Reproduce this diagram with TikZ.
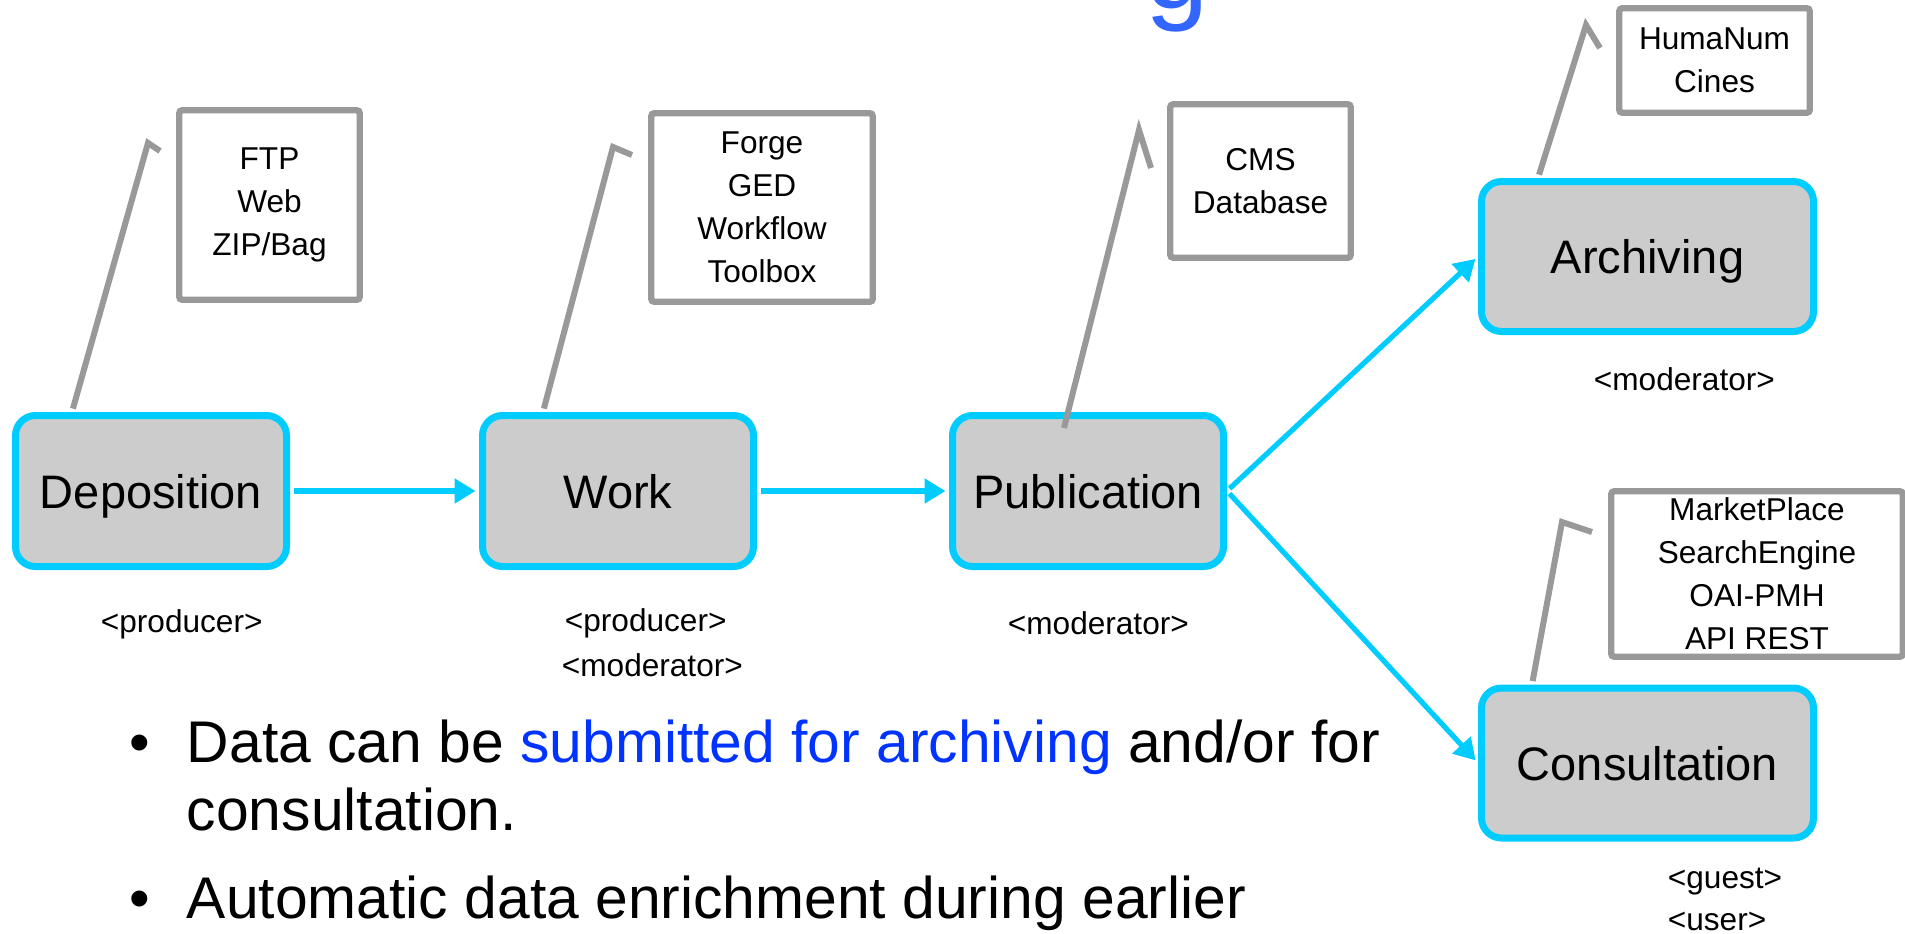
\documentclass[tikz,border=0pt]{standalone}
\usepackage{fontspec}
\setmainfont{Liberation Sans}
\usetikzlibrary{arrows.meta}

\definecolor{flowcyan}{RGB}{0,204,255}
\definecolor{boxgray}{RGB}{204,204,204}
\definecolor{notegray}{RGB}{153,153,153}
\definecolor{linkblue}{RGB}{0,51,255}
\definecolor{titleblue}{RGB}{51,102,255}

\begin{document}
\begin{tikzpicture}[x=0.5pt,y=0.5pt,yscale=-1,xscale=1,
  stage/.style={draw=flowcyan,fill=boxgray,line width=3.5pt,rounded corners=10pt,minimum width=135.5pt,minimum height=75.5pt,inner sep=0pt,text height=17pt,text depth=0pt,font=\fontsize{23.5}{28}\selectfont},
  widestage/.style={stage,minimum width=166pt,minimum height=75pt},
  notebox/.style={draw=notegray,fill=white,line width=3.2pt,rounded corners=1.5pt,align=center,inner sep=0pt,font=\fontsize{15.8}{21.5}\selectfont},
  leader/.style={draw=notegray,line width=3pt,shorten <=1.75pt},
  flow/.style={draw=flowcyan,line width=2.6pt,shorten >=1.75pt,shorten <=1.75pt,-{Triangle[length=10.5pt,width=12pt]}},
  role/.style={anchor=base west,inner sep=0.75pt,font=\fontsize{15.8}{20}\selectfont},
  bullet/.style={anchor=base west,inner sep=0.75pt,font=\fontsize{29.4}{34}\selectfont}
]
\useasboundingbox (0,0) rectangle (1905,933);
\clip (0,0) rectangle (1905,933);

% Text Node (title, cut at the top)
\draw (1145,8) node [anchor=base west][inner sep=0pt][text=titleblue,font=\fontsize{57}{60}\selectfont] (titleg) {g};

%Rounded Rect
\draw (151,491) node [stage] (dep) {Deposition};
%Rounded Rect
\draw (618,491) node [stage] (work) {Work};
%Rounded Rect
\draw (1088,491) node [stage] (pub) {Publication};
%Rounded Rect
\draw (1647.5,256.5) node [widestage] (arch) {Archiving};
%Rounded Rect
\draw (1647.5,763) node [widestage] (cons) {Consultation};

%Callout boxes
\draw (269.5,205) node [notebox,minimum width=90.25pt,minimum height=94.75pt] (depnote) {FTP\\Web\\ZIP/Bag};
\draw (762,207.5) node [notebox,minimum width=110.75pt,minimum height=94.25pt] (worknote) {Forge\\GED\\Workflow\\Toolbox};
\draw (1260.5,181) node [notebox,minimum width=90.25pt,minimum height=76.75pt] (pubnote) {CMS\\Database};
\draw (1714.5,60.5) node [notebox,minimum width=95.25pt,minimum height=52.25pt] (archnote) {HumaNum\\Cines};
\draw (1757,574) node [notebox,minimum width=145.75pt,minimum height=82.75pt] (consnote) {MarketPlace\\SearchEngine\\OAI-PMH\\API REST};

%Callout leaders
\coordinate (depfoot) at (72,412);
\coordinate (depknee) at (148,143);
\coordinate (dephook) at (160,151);
\coordinate (workfoot) at (543,412);
\coordinate (workknee) at (613,147);
\coordinate (workhook) at (632,155);
\coordinate (pubfoot) at (1064,428);
\coordinate (pubknee) at (1139,130);
\coordinate (pubhook) at (1151,168);
\coordinate (archfoot) at (1538,178);
\coordinate (archknee) at (1586,25);
\coordinate (archhook) at (1600,48);
\coordinate (consfoot) at (1532,684);
\coordinate (consknee) at (1562,522);
\coordinate (conshook) at (1592,532);
\draw [leader] (dep.north -| depfoot) -- (depknee) -- (dephook);
\draw [leader] (work.north -| workfoot) -- (workknee) -- (workhook);
\draw [leader,shorten <=0pt] (pubfoot) -- (pubknee) -- (pubhook);
\draw [leader] (arch.north -| archfoot) -- (archknee) -- (archhook);
\draw [leader] (cons.north -| consfoot) -- (consknee) -- (conshook);

%Straight Lines
\draw [flow] (dep) -- (work);
\draw [flow] (work) -- (pub);
\draw [flow] (pub.east) -- (arch.west);
\draw [flow] (pub.east) -- (cons.west);

% Text Node
\draw (99,632) node [role] (deprole) {<producer>};
% Text Node
\draw (563,631) node [role] (workrole) {<producer>};
% Text Node
\draw (560,676) node [role] (workrole2) {<moderator>};
% Text Node
\draw (1006,634) node [role] (pubrole) {<moderator>};
% Text Node
\draw (1592,390) node [role] (archrole) {<moderator>};
% Text Node
\draw (1666,888) node [role] (consrole) {<guest>};
% Text Node
\draw (1666,930) node [role] (consrole2) {<user>};

% Text Node
\draw (128,762) node [bullet] (dot1) {•};
\draw (185,762) node [bullet] (item1) {Data can be \textcolor{linkblue}{submitted for archiving} and/or for};
\draw (185,830) node [bullet] (item1b) {consultation.};
% Text Node
\draw (128,918) node [bullet] (dot2) {•};
\draw (185,918) node [bullet] (item2) {Automatic data enrichment during earlier};

\end{tikzpicture}
\end{document}
